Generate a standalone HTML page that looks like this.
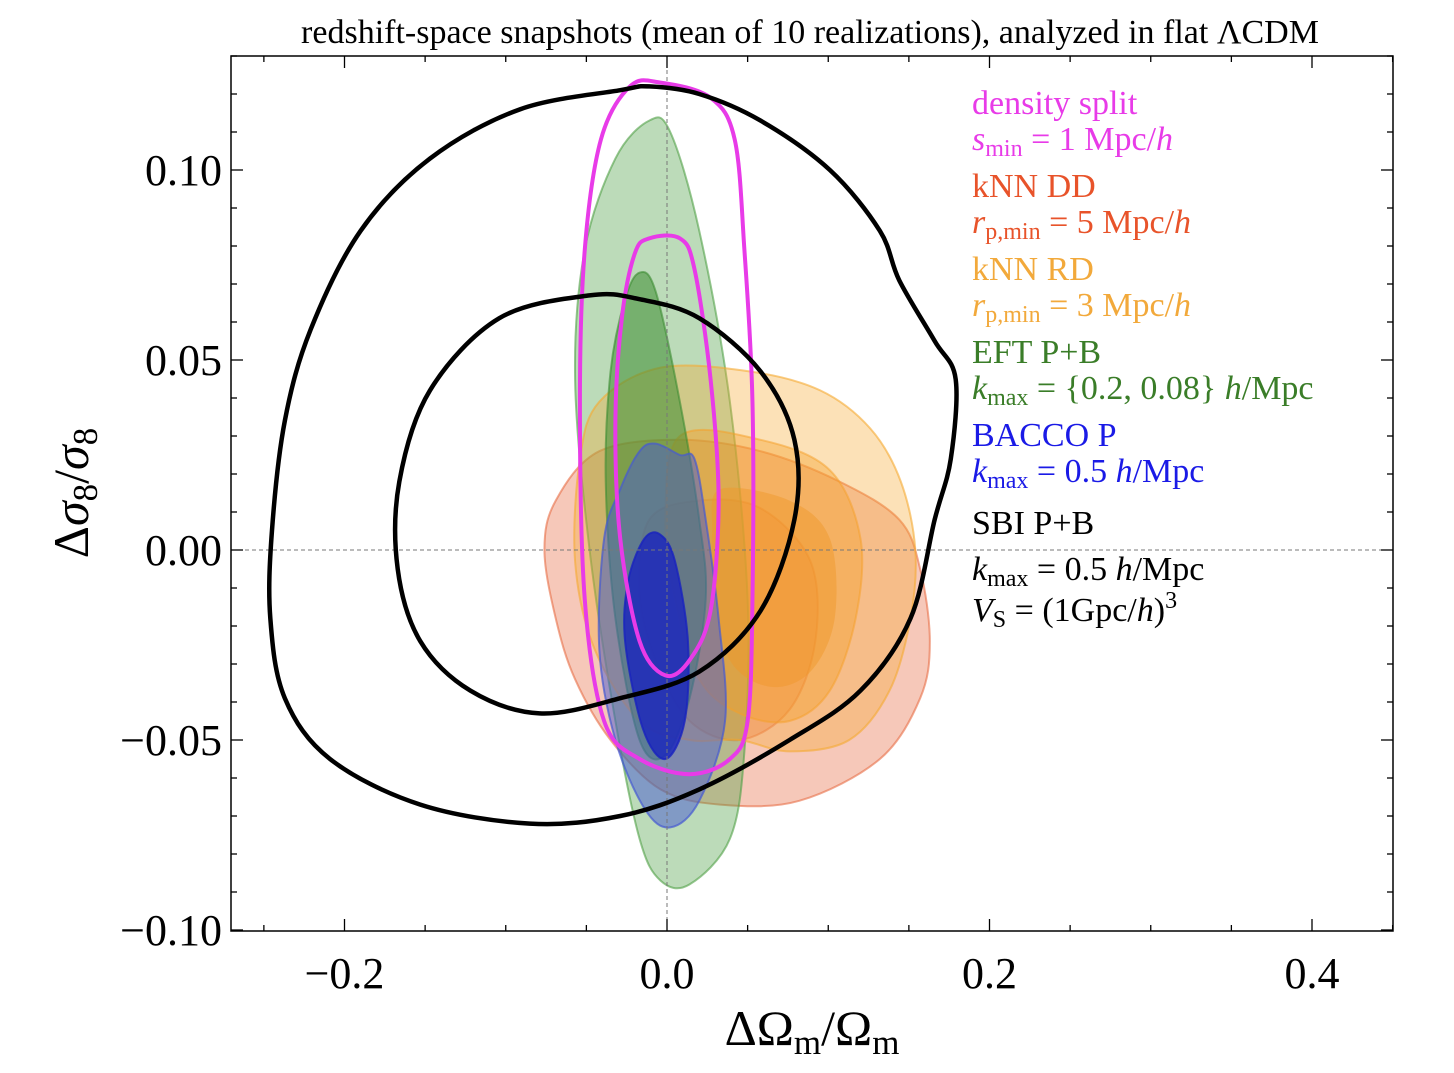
<!DOCTYPE html>
<html><head><meta charset="utf-8"><style>
body{margin:0;background:#fff;}
svg text{font-family:"Liberation Serif",serif;}
</style></head><body>
<svg id="c" width="1454" height="1068" xmlns="http://www.w3.org/2000/svg">
<text x="810" y="43" font-size="34" text-anchor="middle">redshift-space snapshots (mean of 10 realizations), analyzed in flat ΛCDM</text>
<g id="plot"></g>
<g id="axes"></g>
<text x="812" y="1045" font-size="50" text-anchor="middle">ΔΩ<tspan font-size="35" dy="9">m</tspan><tspan dy="-9">/Ω</tspan><tspan font-size="35" dy="9">m</tspan></text>
<text transform="translate(88,493) rotate(-90)" font-size="50" text-anchor="middle">Δ<tspan font-style="italic">σ</tspan><tspan font-size="35" dy="9">8</tspan><tspan dy="-9">/</tspan><tspan font-style="italic">σ</tspan><tspan font-size="35" dy="9">8</tspan></text>
<g font-size="34">
<text x="972" y="114" fill="#e83be8">density split</text>
<text x="972" y="150" fill="#e83be8"><tspan font-style="italic">s</tspan><tspan font-size="24" dy="6">min</tspan><tspan dy="-6"> = 1 Mpc/</tspan><tspan font-style="italic">h</tspan></text>
<text x="972" y="197" fill="#e8532a">kNN DD</text>
<text x="972" y="233" fill="#e8532a"><tspan font-style="italic">r</tspan><tspan font-size="24" dy="6">p,min</tspan><tspan dy="-6"> = 5 Mpc/</tspan><tspan font-style="italic">h</tspan></text>
<text x="972" y="280" fill="#f2a93b">kNN RD</text>
<text x="972" y="316" fill="#f2a93b"><tspan font-style="italic">r</tspan><tspan font-size="24" dy="6">p,min</tspan><tspan dy="-6"> = 3 Mpc/</tspan><tspan font-style="italic">h</tspan></text>
<text x="972" y="363" fill="#3a7d28">EFT P+B</text>
<text x="972" y="399" fill="#3a7d28"><tspan font-style="italic">k</tspan><tspan font-size="24" dy="6">max</tspan><tspan dy="-6"> = {0.2, 0.08} </tspan><tspan font-style="italic">h</tspan>/Mpc</text>
<text x="972" y="446" fill="#1a1ae6">BACCO P</text>
<text x="972" y="482" fill="#1a1ae6"><tspan font-style="italic">k</tspan><tspan font-size="24" dy="6">max</tspan><tspan dy="-6"> = 0.5 </tspan><tspan font-style="italic">h</tspan>/Mpc</text>
<text x="972" y="534" fill="#000">SBI P+B</text>
<text x="972" y="580" fill="#000"><tspan font-style="italic">k</tspan><tspan font-size="24" dy="6">max</tspan><tspan dy="-6"> = 0.5 </tspan><tspan font-style="italic">h</tspan>/Mpc</text>
<text x="972" y="621" fill="#000"><tspan font-style="italic">V</tspan><tspan font-size="24" dy="6">S</tspan><tspan dy="-6"> = (1Gpc/</tspan><tspan font-style="italic">h</tspan>)<tspan font-size="24" dy="-13">3</tspan></text>
</g>
</svg>
<script>
const xTicks=[-0.2,0.0,0.2,0.4];
const xTickLabels=["−0.2","0.0","0.2","0.4"];
const yTicks=[-0.10,-0.05,0.00,0.05,0.10];
const yTickLabels=["−0.10","−0.05","0.00","0.05","0.10"];
const redOuter=[[-0.042,0.026],[0.008,0.029],[0.058,0.026],[0.107,0.018],[0.144,0.008],[0.157,-0.005],[0.163,-0.024],[0.157,-0.039],[0.132,-0.055],[0.082,-0.066],[0.033,-0.067],[-0.004,-0.063],[-0.035,-0.050],[-0.057,-0.034],[-0.069,-0.018],[-0.076,0.000],[-0.069,0.013]];
const redInner=[[-0.011,0.008],[0.020,0.013],[0.058,0.011],[0.089,-0.003],[0.092,-0.024],[0.076,-0.042],[0.045,-0.050],[0.014,-0.045],[-0.007,-0.029],[-0.017,-0.011]];
const orangeOuter=[[-0.042,0.039],[-0.004,0.048],[0.051,0.047],[0.095,0.042],[0.126,0.032],[0.145,0.018],[0.154,0.000],[0.151,-0.018],[0.138,-0.037],[0.113,-0.050],[0.076,-0.053],[0.045,-0.050],[0.014,-0.050],[-0.017,-0.045],[-0.045,-0.026],[-0.057,-0.003],[-0.054,0.024]];
const orangeMid=[[0.008,0.030],[0.058,0.029],[0.101,0.021],[0.120,0.003],[0.117,-0.018],[0.101,-0.037],[0.076,-0.045],[0.045,-0.043],[0.020,-0.034],[0.005,-0.013],[-0.001,0.008]];
const orangeInner=[[0.033,0.016],[0.076,0.013],[0.101,0.003],[0.104,-0.018],[0.089,-0.032],[0.064,-0.036],[0.039,-0.029],[0.030,-0.011],[0.028,0.005]];
const greenOuter=[[-0.011,0.113],[0.002,0.110],[0.020,0.084],[0.039,0.039],[0.050,-0.013],[0.048,-0.053],[0.039,-0.076],[0.014,-0.088],[-0.004,-0.087],[-0.017,-0.076],[-0.032,-0.045],[-0.048,0.000],[-0.057,0.045],[-0.051,0.079],[-0.032,0.103]];
const greenInner=[[-0.017,0.073],[-0.007,0.068],[0.008,0.039],[0.020,0.008],[0.024,-0.013],[0.014,-0.039],[-0.001,-0.054],[-0.017,-0.050],[-0.032,-0.018],[-0.038,0.018],[-0.035,0.047],[-0.026,0.066]];
const blueOuter=[[-0.007,0.028],[0.008,0.025],[0.017,0.024],[0.024,0.008],[0.032,-0.018],[0.036,-0.045],[0.020,-0.066],[0.002,-0.073],[-0.014,-0.068],[-0.032,-0.050],[-0.042,-0.026],[-0.039,0.003],[-0.029,0.016],[-0.017,0.026]];
const blueInner=[[-0.004,0.004],[0.005,-0.003],[0.013,-0.024],[0.011,-0.045],[-0.001,-0.055],[-0.015,-0.047],[-0.026,-0.024],[-0.024,-0.008],[-0.014,0.003]];
const magentaOuter=[[-0.004,0.123],[0.027,0.119],[0.042,0.108],[0.048,0.079],[0.053,0.039],[0.053,-0.013],[0.050,-0.045],[0.039,-0.055],[0.014,-0.059],[-0.017,-0.055],[-0.039,-0.045],[-0.051,-0.013],[-0.054,0.039],[-0.051,0.079],[-0.041,0.108],[-0.023,0.122]];
const magentaInner=[[-0.011,0.082],[0.008,0.082],[0.017,0.074],[0.027,0.045],[0.032,0.013],[0.027,-0.016],[0.014,-0.029],[-0.001,-0.033],[-0.017,-0.024],[-0.029,0.003],[-0.032,0.034],[-0.028,0.061],[-0.020,0.078]];
const blackOuter=[[-0.029,0.121],[-0.091,0.116],[-0.147,0.103],[-0.190,0.084],[-0.221,0.058],[-0.237,0.034],[-0.245,0.005],[-0.246,-0.018],[-0.237,-0.039],[-0.209,-0.055],[-0.153,-0.067],[-0.085,-0.072],[-0.029,-0.070],[0.020,-0.063],[0.076,-0.050],[0.120,-0.037],[0.151,-0.018],[0.166,0.008],[0.176,0.024],[0.179,0.045],[0.166,0.055],[0.144,0.071],[0.132,0.084],[0.101,0.100],[0.058,0.113],[0.020,0.120],[-0.011,0.122]];
const blackInner=[[-0.048,0.067],[-0.104,0.061],[-0.147,0.042],[-0.166,0.018],[-0.167,-0.005],[-0.153,-0.024],[-0.122,-0.037],[-0.079,-0.043],[-0.029,-0.039],[0.020,-0.032],[0.058,-0.016],[0.079,0.008],[0.079,0.029],[0.058,0.047],[0.020,0.061],[-0.017,0.066]];

const L=231,R=1393,T=56,B=931;
const sx=v=>667+v*1612.5;
const sy=v=>550-v*3800;
const NS="http://www.w3.org/2000/svg";
const plot=document.getElementById('plot'), axes=document.getElementById('axes');
function mk(tag,attrs,parent){const e=document.createElementNS(NS,tag);for(const k in attrs)e.setAttribute(k,attrs[k]);parent.appendChild(e);return e;}
function smooth(pts){
  const p=pts.map(d=>[sx(d[0]),sy(d[1])]);const n=p.length;let s=`M${p[0][0]},${p[0][1]}`;
  for(let i=0;i<n;i++){const p0=p[(i-1+n)%n],p1=p[i],p2=p[(i+1)%n],p3=p[(i+2)%n];
    s+=` C${p1[0]+(p2[0]-p0[0])/6},${p1[1]+(p2[1]-p0[1])/6} ${p2[0]-(p3[0]-p1[0])/6},${p2[1]-(p3[1]-p1[1])/6} ${p2[0]},${p2[1]}`;}
  return s+'Z';
}
mk('clipPath',{id:'clip'},plot);
mk('rect',{x:L,y:T,width:R-L,height:B-T},document.getElementById('clip'));
const g=mk('g',{'clip-path':'url(#clip)'},plot);
function filled(pts,fill,stroke,name){const e=mk('path',{d:smooth(pts),fill:fill,stroke:stroke,'stroke-width':2},g);

}
function line(pts,stroke,w,name){const e=mk('path',{d:smooth(pts),fill:'none',stroke:stroke,'stroke-width':w},g);

}
filled(redOuter,'rgba(232,110,70,0.38)','rgba(232,110,70,0.6)','knn-dd-contour-outer');
filled(redInner,'rgba(232,110,70,0.35)','rgba(232,110,70,0.5)','knn-dd-contour-inner');
filled(greenOuter,'rgba(80,160,70,0.38)','rgba(80,160,70,0.6)','eft-contour-outer');
filled(orangeOuter,'rgba(245,170,50,0.35)','rgba(245,170,50,0.6)','knn-rd-contour-outer');
filled(orangeMid,'rgba(245,160,40,0.4)','rgba(245,160,40,0.5)','knn-rd-contour-mid');
filled(orangeInner,'rgba(240,150,40,0.45)','none','knn-rd-contour-inner');
filled(greenInner,'rgba(60,140,50,0.55)','rgba(60,140,50,0.6)','eft-contour-inner');
filled(blueOuter,'rgba(70,90,210,0.5)','rgba(70,90,210,0.7)','bacco-contour-outer');
filled(blueInner,'rgba(25,35,190,0.8)','rgba(25,35,190,0.8)','bacco-contour-inner');
mk('line',{x1:sx(0),x2:sx(0),y1:T,y2:B,stroke:'#777','stroke-width':1,'stroke-dasharray':'4,3'},g);
mk('line',{x1:L,x2:R,y1:sy(0),y2:sy(0),stroke:'#777','stroke-width':1,'stroke-dasharray':'4,3'},g);
line(magentaOuter,'#e83be8',4,'density-split-contour-outer');
line(magentaInner,'#e83be8',4,'density-split-contour-inner');
line(blackOuter,'#000',4.5,'sbi-contour-outer');
line(blackInner,'#000',4.5,'sbi-contour-inner');
mk('rect',{x:L,y:T,width:R-L,height:B-T,fill:'none',stroke:'#000','stroke-width':1.5},axes);
for(let v=-0.25;v<=0.45+1e-9;v+=0.05){const major=xTicks.some(t=>Math.abs(t-v)<1e-6);const len=major?12:6;const x=sx(v);
 if(x<L||x>R)continue;
 mk('line',{x1:x,x2:x,y1:B,y2:B-len,stroke:'#000','stroke-width':1.3},axes);
 mk('line',{x1:x,x2:x,y1:T,y2:T+len,stroke:'#000','stroke-width':1.3},axes);}
xTicks.forEach((v,i)=>{const t=mk('text',{x:sx(v),y:988,'font-size':44,'text-anchor':'middle'},axes);t.textContent=xTickLabels[i];

});
for(let k=-10;k<=13;k++){const v=k*0.01;const y=sy(v);if(y<T||y>B)continue;const major=k%5===0;const len=major?12:6;
 mk('line',{x1:L,x2:L+len,y1:y,y2:y,stroke:'#000','stroke-width':1.3},axes);
 mk('line',{x1:R,x2:R-len,y1:y,y2:y,stroke:'#000','stroke-width':1.3},axes);}
yTicks.forEach((v,i)=>{const t=mk('text',{x:222,y:sy(v)+15,'font-size':44,'text-anchor':'end'},axes);t.textContent=yTickLabels[i];

});
</script>
</body></html>
